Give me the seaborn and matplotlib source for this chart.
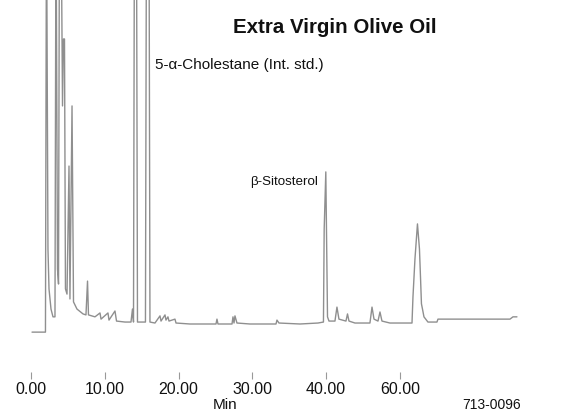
import matplotlib
matplotlib.use("Agg")
import matplotlib.pyplot as plt
import seaborn as sns
import pandas as pd

# Retention time (min) and detector response (% of full scale)
rt_min = [0.14, 1.96, 2.10, 2.30, 2.44, 2.71, 2.98, 3.25, 3.39, 3.59, 3.73, 3.86,
          4.07, 4.27, 4.40, 4.54, 4.67, 4.88, 5.15, 5.28, 5.56, 5.76, 6.23, 7.05,
          7.45, 7.66, 7.79, 8.67, 9.35, 9.49, 10.43, 10.57, 11.38, 11.59, 12.74,
          13.55, 13.75, 13.89, 14.02, 14.29, 14.43, 15.51, 15.65, 15.99, 16.12,
          16.80, 17.48, 17.62, 18.16, 18.29, 18.56, 18.70, 19.51, 19.65, 21.54,
          25.07, 25.20, 25.34, 27.24, 27.37, 27.51, 27.64, 27.91, 29.67, 33.20,
          33.33, 33.60, 36.45, 38.89, 39.63, 39.73, 39.95, 40.04, 40.18, 40.38,
          41.19, 41.46, 41.73, 42.68, 42.89, 43.09, 43.90, 45.93, 46.21, 46.48,
          47.02, 47.29, 47.56, 48.64, 51.63, 51.76, 52.03, 52.37, 52.64, 52.78,
          52.91, 53.05, 53.25, 53.79, 55.01, 55.15, 64.91, 65.31, 65.85]
response = [-2.5, -2.5, 130, 23.1, 10.8, 4.6, 2.2, 2.2, 130, 16.9, 12.3, 130,
            130, 67.1, 87.7, 87.7, 10.8, 9.2, 48.6, 7.7, 67.1, 6.8, 4.6, 3.1,
            2.8, 13.2, 2.8, 2.2, 3.4, 1.5, 3.4, 1.2, 4.0, 0.9, 0.6,
            0.6, 4.6, 0.6, 130, 130, 0.6, 0.6, 130, 130, 0.6,
            0.3, 2.5, 0.9, 2.8, 1.2, 2.2, 0.9, 1.5, 0.3, 0.0,
            0.0, 1.5, 0.0, 0.0, 2.2, 0.3, 2.5, 0.3, 0.0, 0.0,
            1.2, 0.3, 0.0, 0.3, 0.6, 29.2, 46.8, 29.2, 2.2, 0.9,
            0.9, 5.2, 1.5, 0.9, 3.1, 0.9, 0.3, 0.3, 5.2, 1.5,
            0.9, 3.7, 0.9, 0.3, 0.3, 8.3, 20.0, 30.8, 23.1, 14.5,
            6.2, 4.6, 2.2, 0.6, 0.6, 1.5, 1.5, 2.2, 2.2]

tick_values = [0, 10, 20, 30, 40, 50]
tick_labels = ["0.00", "10.00", "20.00", "30.00", "40.00", "60.00"]

title = "Extra Virgin Olive Oil"
peak_labels = ["5-\u03b1-Cholestane (Int. std.)", "\u03b2-Sitosterol"]

df = pd.DataFrame({"rt": rt_min, "resp": response})

sns.set_theme(style="white")
plt.rcParams["font.family"] = ["Liberation Sans", "DejaVu Sans"]

fig = plt.figure(figsize=(5.7, 4.14), dpi=100)
ax = fig.add_axes([0, 41 / 414, 1, 373 / 414])
sns.lineplot(data=df, x="rt", y="resp", ax=ax, sort=False, estimator=None,
             color="#8f8f8f", linewidth=1.0)

ax.set_xlim(-4.20, 73.04)
ax.set_ylim(-14.77, 100)
for s in ax.spines.values():
    s.set_visible(False)
ax.set_yticks([])
ax.set_xticks(tick_values)
ax.set_xticklabels(tick_labels, fontsize=11.5, color="#111111")
ax.tick_params(axis="x", direction="out", length=5, width=0.8, color="#999999",
               pad=1.5, bottom=True)
ax.set_xlabel("")
ax.set_ylabel("")

ax.text(41.2, 91.4, title, ha="center", va="center", fontsize=14.8,
        fontweight="bold", color="#111111")
ax.text(16.8, 80.0, peak_labels[0], ha="left", va="center", fontsize=11,
        color="#111111")
ax.text(38.9, 44.0, peak_labels[1], ha="right", va="center", fontsize=9.6,
        color="#111111")

fig.text(225 / 570, 1 - 405 / 414, "Min", ha="center", va="center",
         fontsize=11, color="#111111")
fig.text(492 / 570, 1 - 405 / 414, "713-0096", ha="center", va="center",
         fontsize=10, color="#111111")

fig.savefig("out.png", dpi=100)
